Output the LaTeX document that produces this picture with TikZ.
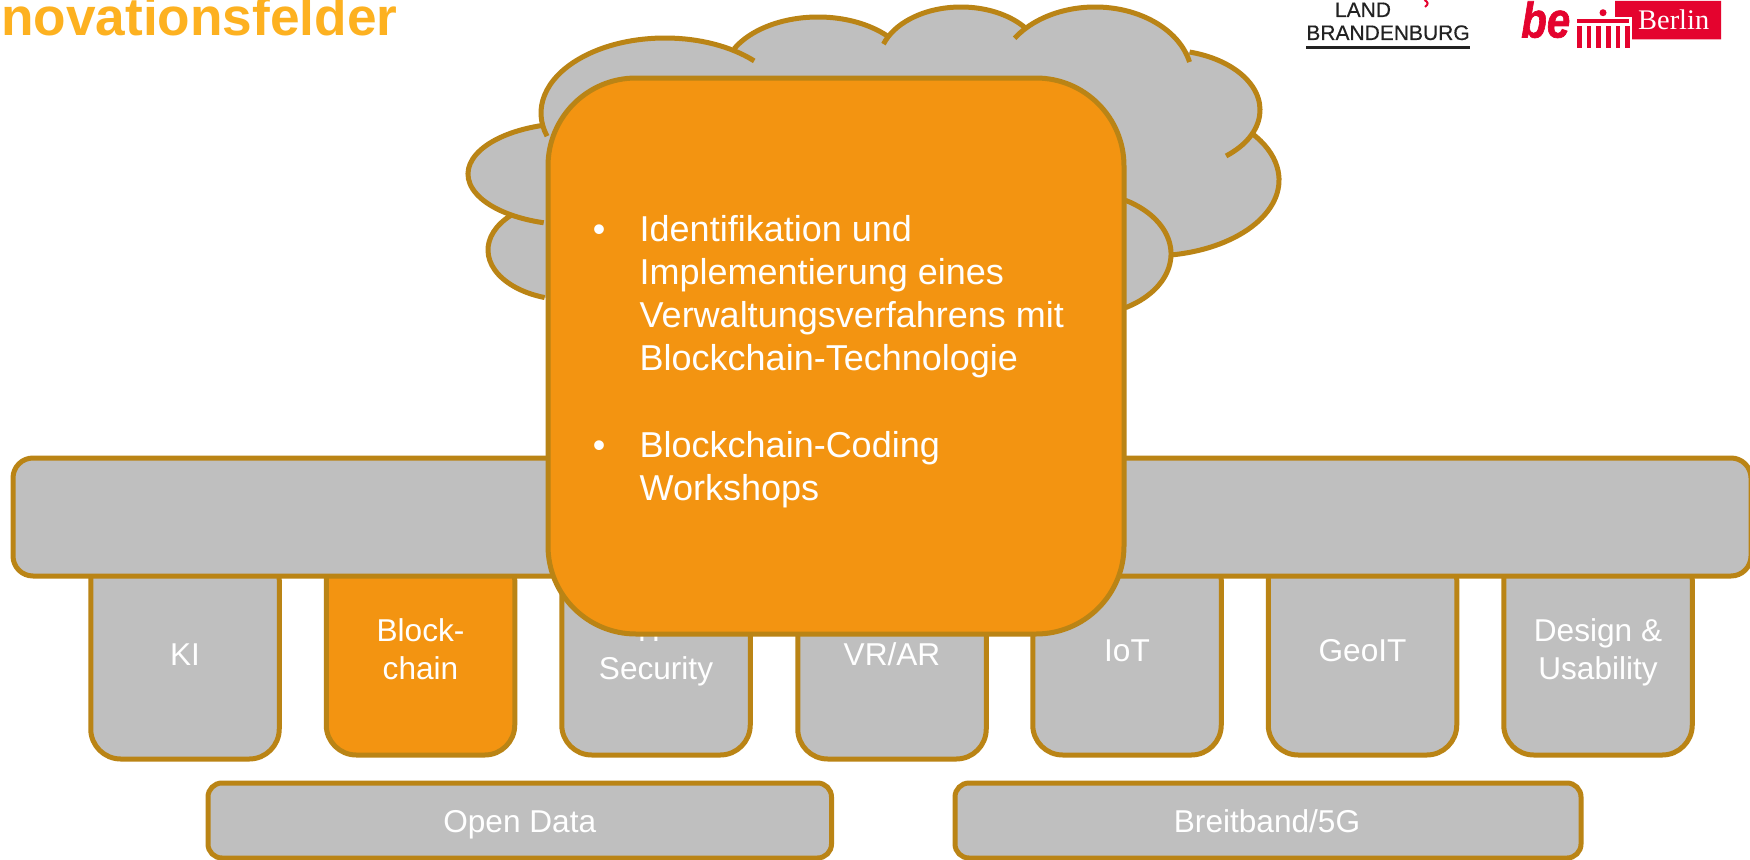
\documentclass[tikz,border=0pt]{standalone}
\usepackage{fontspec}
\setmainfont{Liberation Sans}
\newfontfamily\serifface{Liberation Serif}
\newfontfamily\calloutface[WordSpace=0.85]{Liberation Sans}
\newfontfamily\logoface[FakeBold=0.4]{Liberation Sans}
\newfontfamily\beface[BoldItalicFeatures={FakeBold=1.5}]{Liberation Sans}
\definecolor{boxgray}{HTML}{BFBFBF}
\definecolor{rim}{HTML}{BA8415}
\definecolor{hot}{HTML}{F39411}
\definecolor{titlecol}{HTML}{FDB120}
\definecolor{logored}{HTML}{E4032E}
\definecolor{logoblack}{HTML}{222222}
\newcommand{\sized}[2]{\fontsize{#1}{#2}\selectfont}
\tikzset{
  x=1pt,y=1pt,
  panel/.style={draw=rim,line width=5pt,fill=boxgray,inner sep=0pt,outer sep=0pt},
  hotpanel/.style={panel,fill=hot},
  coltab/.style={rounded corners=30pt,minimum width=188.5pt},
  foottab/.style={panel,rounded corners=14pt,minimum height=75pt},
  smalltext/.style={text=white,inner sep=0pt,anchor=base,align=center,font=\sized{31.6}{38}},
  bigtext/.style={text=white,inner sep=0pt,anchor=base west,align=flush left,text width=480pt,font=\calloutface\sized{36}{43}},
  bullettext/.style={text=white,inner sep=0pt,anchor=base,font=\sized{35.7}{43}},
  lobeline/.style={draw=rim,line width=5pt},
  lobefill/.style={fill=boxgray},
  gatebar/.style={fill=logored}
}
% one cloud lobe: centre x, centre y (down), rx, ry, start, end
\newcommand{\lobe}[6]{%
  \path[lobefill] (#1,-#2) ellipse [x radius=#3,y radius=#4];}
\newcommand{\lobearc}[6]{%
  \draw[lobeline] ({#1+#3*cos(#5)},{-#2+#4*sin(#5)}) arc [start angle=#5,end angle=#6,x radius=#3,y radius=#4];}
\begin{document}
\begin{tikzpicture}
\clip (0,0) rectangle (1750,-859);
\fill[white] (0,0) rectangle (1750,-859);

% title
\node[text=titlecol,inner sep=0pt,anchor=base west,font=\sized{53.2}{60}\bfseries] (title) at (1,-35.5) {novationsfelder};

% Brandenburg logo
\node[text=logoblack,inner sep=0pt,anchor=base,font=\logoface\sized{21}{24}] (land) at (1363,-17) {LAND};
\node[text=logoblack,inner sep=0pt,anchor=base,font=\logoface\sized{21}{24}] (brandenburg) at (1388,-40) {BRANDENBURG};
\fill[logoblack] (1306,-46.4) rectangle (1470,-49);
\draw[logored,line width=2pt] (1424.5,0) .. controls (1428,-2) and (1429,-4) .. (1425,-7);

% Berlin logo
\node[text=logored,inner sep=0pt,anchor=base west,xscale=.84,font=\beface\sized{50}{50}\bfseries\itshape] (be) at (1521,-37.5) {be};
\fill[gatebar] (1615,-1) -- (1721,-1) -- (1721,-39.3) -- (1632,-39.3) -- (1632,-17) -- (1615,-17) -- cycle;
\fill[gatebar] (1577,-18.7) rectangle (1629,-23.3);
\fill[gatebar] (1603,-12.7) circle (3.5);
\foreach \cx in {1577,1586.7,1596.4,1606,1615.5,1625}{
  \fill[gatebar] (\cx,-26) rectangle ({\cx+4.5},-48);
}
\node[text=white,inner sep=0pt,anchor=base west,font=\serifface\sized{28.4}{30}] (berlin) at (1638,-30) {Berlin};

% cloud
\fill[boxgray] (600,-80) rectangle (1150,-240);
\lobe{575}{174}{107}{51}{107}{253}
\lobe{570}{250}{82}{50}{136}{252}
\lobe{665}{113}{124}{75}{44}{198}
\lobe{818}{77}{95}{60}{42}{152}
\lobe{961}{62}{82}{55}{38}{161}
\lobe{1095}{78}{97}{71}{13}{146}
\lobe{1165}{110}{95}{60}{-50}{75}
\lobe{1150}{180}{129}{76}{-80}{38}
\lobe{1080}{254}{91}{62}{-60}{60}
\lobearc{575}{174}{107}{51}{107}{253}
\lobearc{570}{250}{82}{50}{136}{252}
\lobearc{665}{113}{124}{75}{44}{198}
\lobearc{818}{77}{95}{60}{42}{152}
\lobearc{961}{62}{82}{55}{38}{161}
\lobearc{1095}{78}{97}{71}{13}{146}
\lobearc{1165}{110}{95}{60}{-50}{75}
\lobearc{1150}{180}{129}{76}{-80}{38}
\lobearc{1080}{254}{91}{62}{-60}{60}

% columns
\node[panel,coltab,minimum height=209pt] (ki) at (185,-654.5) {};
\node[hotpanel,coltab,minimum height=205pt] (blockchain) at (420.5,-652.5) {};
\node[panel,coltab,minimum height=205pt] (security) at (656,-652.5) {};
\node[panel,coltab,minimum height=209pt] (vrar) at (892,-654.5) {};
\node[panel,coltab,minimum height=205pt] (iot) at (1127,-652.5) {};
\node[panel,coltab,minimum height=205pt] (geoit) at (1362.5,-652.5) {};
\node[panel,coltab,minimum height=205pt] (design) at (1598,-652.5) {};

\node[smalltext] (kitext) at (185,-665) {KI};
\node[smalltext] (blocktext) at (420.5,-679) {Block-\\chain};
\node[smalltext] (sectext) at (656,-679) {IT-\\Security};
\node[smalltext] (vrtext) at (892,-665) {VR/AR};
\node[smalltext] (iottext) at (1127,-661) {IoT};
\node[smalltext] (geotext) at (1362.5,-661) {GeoIT};
\node[smalltext] (destext) at (1598,-679) {Design \&\\Usability};

% wide bar
\node[panel,rounded corners=20pt,minimum width=1738pt,minimum height=118pt] (bar) at (882,-517) {};

% footer
\node[foottab,minimum width=623.5pt] (opendata) at (519.75,-820.5) {};
\node[foottab,minimum width=626pt] (breitband) at (1268,-820.5) {};
\node[smalltext] (opentext) at (519.75,-832.5) {Open Data};
\node[smalltext] (breittext) at (1267,-832.5) {Breitband/5G};

% call-out
\node[hotpanel,rounded corners=88pt,minimum width=576pt,minimum height=556pt] (callout) at (836,-356) {};
\node[bullettext] (bulleta) at (599,-241) {•};
\node[bigtext] (itema) at (639.5,-241) {Identifikation und\\Implementierung eines\\Verwaltungsverfahrens mit\\Blockchain-Technologie};
\node[bullettext] (bulletb) at (599,-457.5) {•};
\node[bigtext] (itemb) at (639.5,-457.5) {Blockchain-Coding\\Workshops};
\end{tikzpicture}
\end{document}
